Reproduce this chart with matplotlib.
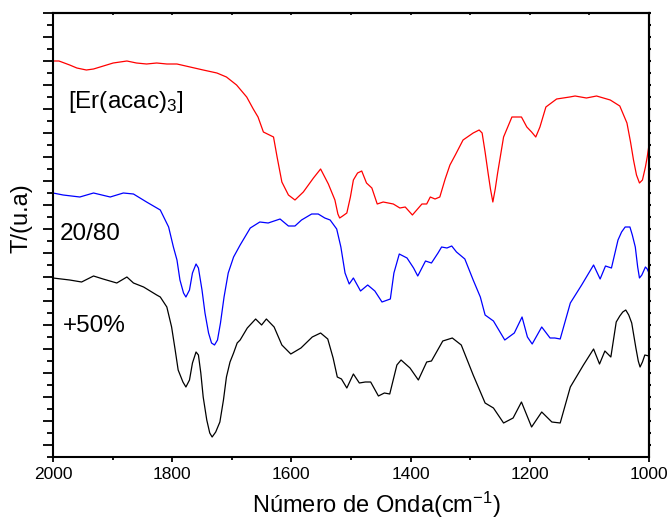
import numpy as np
import matplotlib
matplotlib.use("Agg")
import matplotlib.pyplot as plt
from matplotlib.ticker import MultipleLocator, FixedLocator

plt.rcParams['font.family'] = ['Liberation Sans', 'DejaVu Sans']
plt.rcParams['mathtext.fontset'] = 'custom'
plt.rcParams['mathtext.rm'] = 'Liberation Sans'
plt.rcParams['mathtext.it'] = 'Liberation Sans:italic'

# Espectros de IV (numero de onda em cm-1, transmitancia em unidades arbitrarias, ja deslocados)
wn_er = [2000, 1990, 1972, 1960, 1944, 1932, 1921, 1899, 1876, 1860, 1843, 1826, 1809, 1792,
         1770, 1748, 1725, 1709, 1692, 1675, 1664, 1656, 1647, 1630, 1624, 1616, 1605, 1594,
         1587, 1580, 1563, 1551, 1538, 1527, 1522, 1519, 1514, 1507, 1501, 1496, 1489, 1482,
         1474, 1465, 1456, 1446, 1429, 1418, 1409, 1397, 1381, 1373, 1367, 1359, 1351, 1342,
         1334, 1325, 1312, 1295, 1285, 1280, 1275, 1270, 1266, 1262, 1258, 1254, 1244, 1230,
         1214, 1205, 1197, 1190, 1183, 1173, 1155, 1133, 1124, 1105, 1088, 1065, 1049, 1037,
         1031, 1026, 1021, 1016, 1011, 1006, 1003, 1000]
t_er = [396, 396, 392, 389, 387, 388, 390, 394, 396, 394, 393, 394, 393, 393,
        390, 387, 384, 380, 372, 360, 348, 340, 325, 320, 300, 275, 262, 257,
        261, 265, 279, 288, 273, 257, 243, 239, 241, 244, 260, 277, 284, 286,
        274, 269, 253, 255, 253, 249, 250, 242, 253, 253, 260, 258, 260, 278,
        292, 302, 317, 324, 327, 324, 305, 284, 268, 255, 268, 284, 320, 340,
        340, 330, 325, 320, 330, 350, 358, 360, 361, 359, 361, 357, 351, 334,
        315, 297, 282, 274, 277, 290, 300, 312]

wn_2080 = [2000, 1983, 1955, 1932, 1904, 1882, 1865, 1843, 1820, 1806, 1798, 1792, 1787, 1781,
           1777, 1771, 1766, 1760, 1756, 1750, 1745, 1739, 1734, 1729, 1724, 1719, 1713, 1706,
           1697, 1686, 1669, 1653, 1639, 1619, 1605, 1594, 1583, 1566, 1555, 1544, 1535, 1524,
           1517, 1510, 1503, 1496, 1484, 1472, 1460, 1448, 1434, 1428, 1419, 1406, 1395, 1388,
           1375, 1365, 1354, 1348, 1339, 1331, 1323, 1309, 1295, 1283, 1275, 1261, 1242, 1226,
           1213, 1204, 1196, 1180, 1166, 1158, 1149, 1132, 1113, 1093, 1082, 1073, 1063, 1052,
           1046, 1040, 1032, 1028, 1023, 1019, 1016, 1012, 1006, 1003, 1000]
t_2080 = [264, 262, 260, 264, 260, 264, 263, 255, 247, 230, 210, 197, 177, 164,
          160, 167, 184, 193, 189, 167, 144, 124, 114, 112, 117, 134, 160, 184,
          200, 212, 229, 235, 234, 238, 231, 231, 237, 243, 243, 239, 237, 228,
          210, 184, 173, 179, 166, 172, 166, 155, 158, 184, 203, 199, 189, 181,
          196, 194, 204, 210, 209, 211, 205, 198, 177, 160, 142, 136, 117, 124,
          140, 120, 113, 130, 119, 119, 118, 154, 172, 192, 178, 191, 189, 217,
          225, 230, 230, 222, 210, 190, 179, 182, 190, 188, 184]

wn_50 = [2000, 1972, 1952, 1932, 1916, 1893, 1876, 1865, 1848, 1826, 1820, 1809, 1801, 1795,
         1790, 1782, 1777, 1771, 1766, 1760, 1756, 1752, 1748, 1742, 1737, 1733, 1727, 1720,
         1714, 1709, 1703, 1697, 1691, 1686, 1674, 1660, 1650, 1642, 1629, 1616, 1601, 1584,
         1565, 1551, 1539, 1530, 1523, 1516, 1507, 1496, 1486, 1476, 1467, 1454, 1444, 1435,
         1423, 1416, 1401, 1387, 1373, 1365, 1346, 1330, 1315, 1295, 1275, 1261, 1244, 1228,
         1214, 1197, 1180, 1163, 1149, 1132, 1110, 1093, 1083, 1074, 1064, 1055, 1049, 1044,
         1039, 1034, 1029, 1022, 1018, 1015, 1011, 1007, 1000]
t_50 = [179, 177, 175, 181, 178, 174, 180, 174, 170, 162, 160, 150, 130, 107,
        87, 75, 70, 77, 94, 105, 102, 84, 60, 37, 24, 20, 25, 35,
        57, 80, 95, 104, 114, 117, 129, 138, 132, 138, 130, 112, 103, 109,
        120, 124, 118, 99, 80, 78, 69, 83, 74, 75, 75, 61, 64, 63,
        92, 97, 89, 77, 95, 96, 116, 119, 112, 82, 54, 49, 34, 39,
        55, 30, 45, 35, 34, 70, 92, 108, 93, 106, 100, 135, 141, 145,
        147, 142, 134, 109, 96, 90, 95, 102, 101]

fig = plt.figure(figsize=(6.7, 5.22), dpi=100)
ax = fig.add_axes([53 / 670, 65 / 522, 596 / 670, 444 / 522])

ax.plot(wn_er, t_er, color='#ff0000', lw=0.9)
ax.plot(wn_2080, t_2080, color='#0000ff', lw=0.9)
ax.plot(wn_50, t_50, color='black', lw=0.9)

ax.set_xlim(2000, 1000)
ax.set_ylim(0, 444)

ax.text(1974, 349, '[Er(acac)$_3$]', fontsize=17.5, ha='left', va='baseline')
ax.text(1988, 217, '20/80', fontsize=17.5, ha='left', va='baseline')
ax.text(1984, 125, '+50%', fontsize=17.5, ha='left', va='baseline')

for s in ax.spines.values():
    s.set_linewidth(1.5)

ax.xaxis.set_major_locator(MultipleLocator(200))
ax.xaxis.set_minor_locator(MultipleLocator(100))
ax.yaxis.set_major_locator(FixedLocator(np.arange(12, 445, 24)))
ax.yaxis.set_minor_locator(FixedLocator(np.arange(0, 445, 24)))

ax.tick_params(axis='x', which='major', direction='out', length=3.8, width=1.3,
               labelsize=12.5, pad=3.5, top=False)
ax.tick_params(axis='x', which='minor', direction='out', length=2.3, width=1.3, top=False)
ax.tick_params(axis='y', which='major', direction='out', length=7.5, width=1.3, labelleft=False)
ax.tick_params(axis='y', which='minor', direction='out', length=4.3, width=1.3)

# marcas pequenas nos eixos de cima e da direita
top = ax.secondary_xaxis('top')
top.xaxis.set_major_locator(MultipleLocator(100))
top.tick_params(direction='in', length=1.5, width=1.2, labeltop=False)
top.spines['top'].set_linewidth(1.5)
right = ax.secondary_yaxis('right')
right.yaxis.set_major_locator(FixedLocator(np.arange(12, 445, 12)))
right.tick_params(direction='out', length=1.5, width=1.5, labelright=False)
right.spines['right'].set_linewidth(1.5)

ax.set_xlabel('Número de Onda(cm$^{-1}$)', fontsize=17)
ax.xaxis.set_label_coords(0.543, -0.075)
ax.set_ylabel('T/(u.a)', fontsize=17)
ax.yaxis.set_label_coords(-0.034, 0.539)

fig.savefig('out.png', dpi=100)
